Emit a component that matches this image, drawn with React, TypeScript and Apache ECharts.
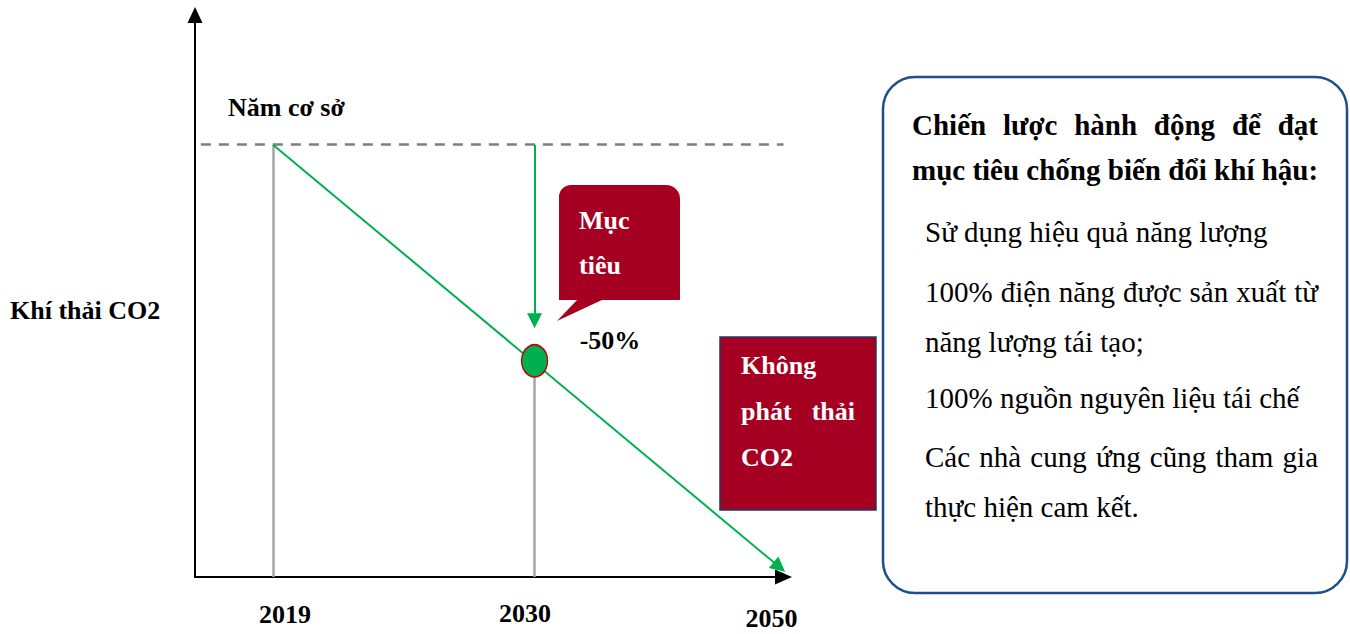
import React, { useEffect, useRef } from "react";
import * as echarts from "echarts";

// ---- data ----
const years = ["2019", "2030", "2050"];
const yearPos = [13.25, 57.7, 99.3]; // schematic positions along the time axis
const emissions = [100, 50, 2.3]; // % of base-year CO2 emissions (arrow ends just above zero)
const targetArrowEnd = 59.3; // where the "-50%" target arrow stops
const yearLabelOffsets = [
  [12, 37],
  [-9.5, 36],
  [-8, 41],
];
const strategyTitle = ["Chiến lược hành động để đạt", "mục tiêu chống biến đổi khí hậu:"];
const strategyLines = [
  { text: "Sử dụng hiệu quả năng lượng", y: 232, justify: false },
  { text: "100% điện năng được sản xuất từ", y: 292, justify: true },
  { text: "năng lượng tái tạo;", y: 342, justify: false },
  { text: "100% nguồn nguyên liệu tái chế", y: 398, justify: false },
  { text: "Các nhà cung ứng cũng tham gia", y: 457, justify: true },
  { text: "thực hiện cam kết.", y: 507, justify: false },
];

const FONT = "Liberation Serif";
const RED = "#a50021";
const GREEN = "#00b050";

function measure(ctx: CanvasRenderingContext2D, text: string, font: string) {
  ctx.font = font;
  return ctx.measureText(text).width;
}

function justifiedLine(
  ctx: CanvasRenderingContext2D,
  text: string,
  left: number,
  right: number,
  y: number,
  size: number,
  weight: string,
  color: string
) {
  const words = text.split(" ");
  const font = `${weight} ${size}px "${FONT}"`;
  const widths = words.map((w) => measure(ctx, w, font));
  const total = widths.reduce((a, b) => a + b, 0);
  const gap = words.length > 1 ? (right - left - total) / (words.length - 1) : 0;
  let x = left;
  return words.map((w, i) => {
    const el = {
      type: "text",
      x,
      y,
      style: {
        text: w,
        font,
        fill: color,
        textAlign: "left",
        textVerticalAlign: "middle",
      },
    };
    x += widths[i] + gap;
    return el;
  });
}

function plainText(text: string, x: number, y: number, size: number, weight: string, color: string, align = "left") {
  return {
    type: "text",
    x,
    y,
    style: {
      text,
      font: `${weight} ${size}px "${FONT}"`,
      fill: color,
      textAlign: align,
      textVerticalAlign: "middle",
    },
  };
}

export default function App() {
  const ref = useRef<HTMLDivElement>(null);

  useEffect(() => {
    if (!ref.current) return;
    const chart = echarts.init(ref.current, undefined, { renderer: "svg" });
    const ctx = document.createElement("canvas").getContext("2d") as CanvasRenderingContext2D;

    const graphics: any[] = [
      plainText("Năm cơ sở", 228, 107, 26, "bold", "#000"),
      plainText("Khí thải CO2", 10, 310, 26, "bold", "#000"),
      // target callout
      {
        type: "rect",
        shape: { x: 559, y: 185, width: 121, height: 115, r: [12, 14, 0, 0] },
        style: { fill: RED },
        z: 10,
      },
      {
        type: "polygon",
        shape: { points: [[578, 299], [604, 299], [557, 321]] },
        style: { fill: RED },
        z: 10,
      },
      { ...plainText("Mục", 579, 220, 26, "bold", "#fff"), z: 11 },
      { ...plainText("tiêu", 579, 265, 26, "bold", "#fff"), z: 11 },
      { ...plainText("-50%", 610, 340, 26, "bold", "#000", "center"), z: 11 },
      // zero emission box
      {
        type: "rect",
        shape: { x: 720, y: 337, width: 156, height: 173 },
        style: { fill: RED, stroke: "#203864", lineWidth: 1.5 },
        z: 10,
      },
      { ...plainText("Không", 741, 365, 26, "bold", "#fff"), z: 11 },
      { ...plainText("phát", 741, 411, 26, "bold", "#fff"), z: 11 },
      { ...plainText("thải", 855, 411, 26, "bold", "#fff", "right"), z: 11 },
      { ...plainText("CO2", 741, 457, 26, "bold", "#fff"), z: 11 },
      // strategy box
      {
        type: "rect",
        shape: { x: 883, y: 77, width: 464, height: 516, r: 32 },
        style: { fill: "#fff", stroke: "#1f4e8c", lineWidth: 2.5 },
        z: 10,
      },
    ];
    justifiedLine(ctx, strategyTitle[0], 912, 1318, 125, 29, "bold", "#000").forEach((e) =>
      graphics.push({ ...e, z: 11 })
    );
    graphics.push({ ...plainText(strategyTitle[1], 912, 170, 29, "bold", "#000"), z: 11 });
    strategyLines.forEach((l) => {
      if (l.justify) {
        justifiedLine(ctx, l.text, 925, 1318, l.y, 29, "normal", "#000").forEach((e) =>
          graphics.push({ ...e, z: 11 })
        );
      } else {
        graphics.push({ ...plainText(l.text, 925, l.y, 29, "normal", "#000"), z: 11 });
      }
    });

    const option: any = {
      animation: false,
      backgroundColor: "#fff",
      grid: { left: 195, right: 566.5, top: 15, bottom: 57 },
      xAxis: {
        type: "value",
        min: 0,
        max: 100,
        axisLine: {
          show: true,
          symbol: ["none", "triangle"],
          symbolSize: [15, 17],
          lineStyle: { color: "#000", width: 2 },
        },
        axisTick: { show: false },
        axisLabel: { show: false },
        splitLine: { show: false },
      },
      yAxis: {
        type: "value",
        min: 0,
        max: 130,
        axisLine: {
          show: true,
          symbol: ["none", "triangle"],
          symbolSize: [15, 16],
          lineStyle: { color: "#000", width: 2 },
        },
        axisTick: { show: false },
        axisLabel: { show: false },
        splitLine: { show: false },
      },
      series: [
        {
          name: "Năm cơ sở",
          type: "lines",
          coordinateSystem: "cartesian2d",
          symbol: "none",
          lineStyle: { color: "#7f7f7f", width: 2.5, type: [10, 8], opacity: 1 },
          data: [{ coords: [[1, emissions[0]], [100, emissions[0]]] }],
          z: 2,
        },
        {
          name: "Mốc năm",
          type: "lines",
          coordinateSystem: "cartesian2d",
          symbol: "none",
          lineStyle: { color: "#a6a6a6", width: 2.5, opacity: 1 },
          data: [
            { coords: [[yearPos[0], 0], [yearPos[0], emissions[0]]] },
            { coords: [[yearPos[1], 0], [yearPos[1], emissions[1]]] },
          ],
          z: 3,
        },
        {
          name: "Lộ trình",
          type: "lines",
          coordinateSystem: "cartesian2d",
          symbol: ["none", "triangle"],
          symbolSize: 15,
          lineStyle: { color: GREEN, width: 2, opacity: 1 },
          data: [
            { coords: [[yearPos[0], emissions[0]], [yearPos[2], emissions[2]]] },
            { coords: [[yearPos[1], emissions[0]], [yearPos[1], targetArrowEnd]] },
          ],
          z: 4,
        },
        {
          name: "Mục tiêu 2030",
          type: "scatter",
          symbol: "circle",
          symbolSize: [26, 32],
          itemStyle: { color: GREEN, borderColor: "#c00000", borderWidth: 1.5, opacity: 1 },
          data: [[yearPos[1], emissions[1]]],
          z: 5,
        },
      ],
      graphic: graphics,
    };
    chart.setOption(option);

    // year labels placed through the chart's own scale
    const yearTexts = years.map((y, i) => {
      const p = chart.convertToPixel({ gridIndex: 0 }, [yearPos[i], 0]) as number[];
      return plainText(y, p[0] + yearLabelOffsets[i][0], p[1] + yearLabelOffsets[i][1], 26, "bold", "#000", "center");
    });
    chart.setOption({ graphic: [...graphics, ...yearTexts] });

    return () => chart.dispose();
  }, []);

  return (
    <div
      ref={ref}
      style={{ position: "fixed", left: 0, top: 0, width: 1350, height: 634, background: "#fff" }}
    />
  );
}
